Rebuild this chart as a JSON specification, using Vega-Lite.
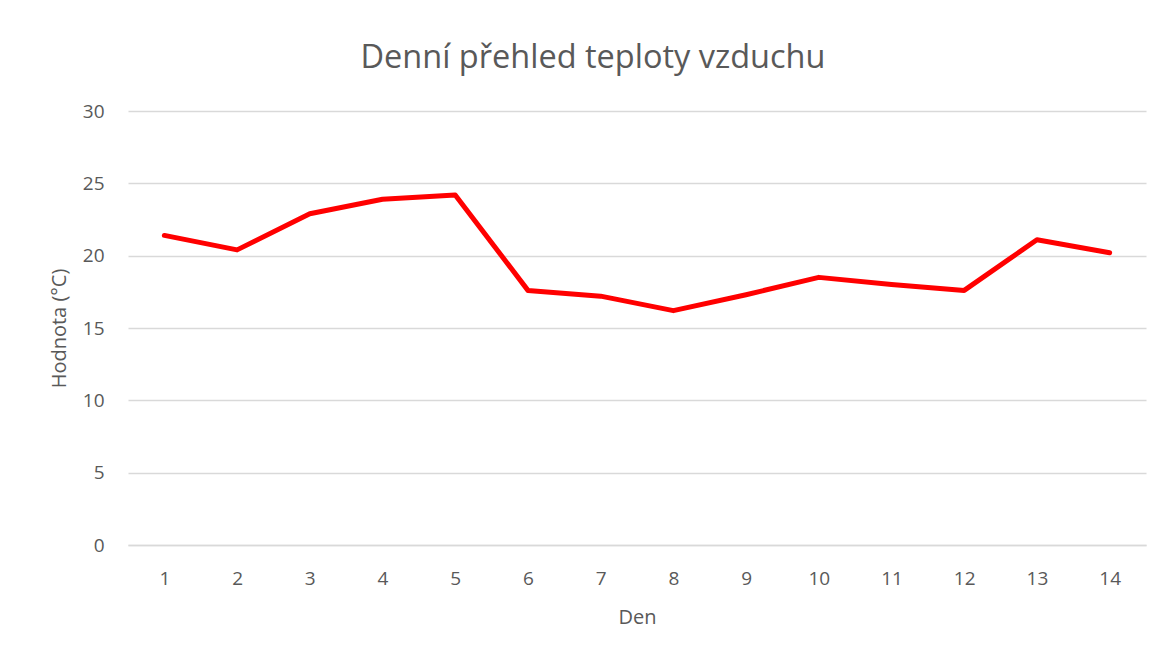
{
  "$schema": "https://vega.github.io/schema/vega-lite/v6.json",
  "width": 1018,
  "height": 434,
  "autosize": {"type": "none"},
  "padding": {"left": 128, "top": 111, "right": 17, "bottom": 112},
  "background": "white",
  "config": {
    "view": {"stroke": null},
    "font": "Open Sans"
  },
  "title": {
    "text": "Denní přehled teploty vzduchu",
    "font": "Open Sans",
    "fontWeight": "normal",
    "fontSize": 32.5,
    "color": "#595959",
    "anchor": "middle",
    "frame": "group",
    "dx": -44,
    "offset": 28
  },
  "data": {
    "values": [
      {"den": 1, "hodnota": 21.4},
      {"den": 2, "hodnota": 20.4},
      {"den": 3, "hodnota": 22.9},
      {"den": 4, "hodnota": 23.9},
      {"den": 5, "hodnota": 24.2},
      {"den": 6, "hodnota": 17.6},
      {"den": 7, "hodnota": 17.2},
      {"den": 8, "hodnota": 16.2},
      {"den": 9, "hodnota": 17.3},
      {"den": 10, "hodnota": 18.5},
      {"den": 11, "hodnota": 18.0},
      {"den": 12, "hodnota": 17.6},
      {"den": 13, "hodnota": 21.1},
      {"den": 14, "hodnota": 20.2}
    ]
  },
  "mark": {"type": "line", "color": "#ff0000", "strokeWidth": 5, "strokeCap": "round", "strokeJoin": "round"},
  "encoding": {
    "x": {
      "field": "den",
      "type": "ordinal",
      "scale": {"padding": 0.5},
      "axis": {
        "title": "Den",
        "titleFont": "Open Sans",
        "titleFontWeight": "normal",
        "titleFontSize": 20,
        "titleColor": "#595959",
        "titlePadding": 19,
        "labelAngle": 0,
        "labelFontSize": 19,
        "labelColor": "#595959",
        "labelPadding": 24,
        "ticks": false,
        "domain": true,
        "domainColor": "#d9d9d9",
        "domainWidth": 1.5,
        "grid": false
      }
    },
    "y": {
      "field": "hodnota",
      "type": "quantitative",
      "scale": {"domain": [0, 30]},
      "axis": {
        "title": "Hodnota (°C)",
        "titleFont": "Open Sans",
        "titleFontWeight": "normal",
        "titleFontSize": 20,
        "titleColor": "#595959",
        "titlePadding": 13,
        "values": [0, 5, 10, 15, 20, 25, 30],
        "labelFontSize": 19,
        "labelColor": "#595959",
        "labelPadding": 24,
        "ticks": false,
        "domain": false,
        "grid": true,
        "gridColor": "#d9d9d9",
        "gridWidth": 1.5
      }
    }
  }
}
